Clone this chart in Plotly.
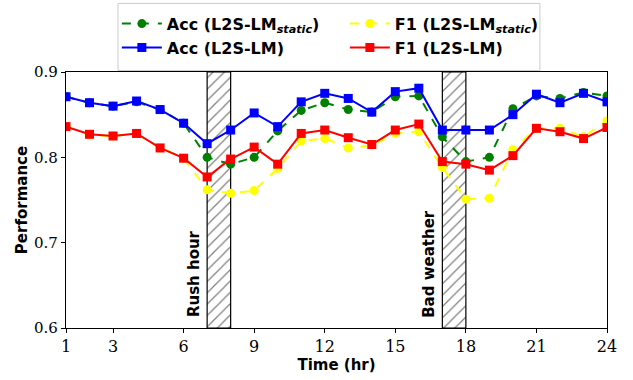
import plotly.graph_objects as go

hours = list(range(1, 25))
acc_static = [0.871, 0.864, 0.860, 0.865, 0.856, 0.840, 0.800, 0.792, 0.800, 0.831, 0.855, 0.864,
              0.856, 0.853, 0.871, 0.872, 0.824, 0.795, 0.800, 0.857, 0.872, 0.869, 0.876, 0.872]
f1_static = [0.836, 0.826, 0.825, 0.828, 0.811, 0.799, 0.762, 0.758, 0.761, 0.787, 0.819, 0.822,
             0.811, 0.814, 0.828, 0.830, 0.788, 0.751, 0.752, 0.809, 0.834, 0.834, 0.824, 0.843]
acc_lm = [0.871, 0.864, 0.860, 0.866, 0.856, 0.840, 0.816, 0.832, 0.852, 0.836, 0.865, 0.875,
          0.869, 0.853, 0.877, 0.881, 0.832, 0.832, 0.832, 0.850, 0.874, 0.864, 0.875, 0.865]
f1_lm = [0.836, 0.827, 0.825, 0.828, 0.811, 0.799, 0.777, 0.798, 0.812, 0.792, 0.828, 0.832,
         0.823, 0.815, 0.832, 0.839, 0.795, 0.792, 0.785, 0.802, 0.834, 0.830, 0.822, 0.835]

event_start = [7, 17]
event_names = ["Rush hour", "Bad weather"]
x_ticks = [1, 3, 6, 9, 12, 15, 18, 21, 24]
y_ticks = [0.6, 0.7, 0.8, 0.9]
y_range = [0.6, 0.9]

fig = go.Figure()

# hatched event regions
fig.add_trace(go.Bar(
    x=[s + 0.5 for s in event_start], y=[y_range[1] - y_range[0]] * len(event_start),
    base=[y_range[0]] * len(event_start), width=[1] * len(event_start),
    marker=dict(color="white", line=dict(color="black", width=1.2),
                pattern=dict(shape="/", fgcolor="black", bgcolor="white", size=8, solidity=0.15)),
    showlegend=False, hoverinfo="skip"))

bold = lambda s: "<b>" + s + "</b>"
series = [
    ("Acc (L2S-LM<sub><i>static</i></sub>)", acc_static, "green", "dash", "circle"),
    ("F1 (L2S-LM<sub><i>static</i></sub>)", f1_static, "#ffff00", "dash", "circle"),
    ("Acc (L2S-LM)", acc_lm, "#0000ff", "solid", "square"),
    ("F1 (L2S-LM)", f1_lm, "#ff0000", "solid", "square"),
]
for name, vals, col, dash, sym in series:
    fig.add_trace(go.Scatter(
        x=hours, y=vals, mode="lines+markers", name=bold(name),
        line=dict(color=col, width=2, dash=dash),
        marker=dict(color=col, symbol=sym, size=9)))

for s, name in zip(event_start, event_names):
    fig.add_annotation(x=s, y=y_range[0] + 0.01, xref="x", yref="y", text=bold(name),
                       textangle=-90, showarrow=False, xanchor="right", yanchor="bottom",
                       xshift=-2, font=dict(family="DejaVu Sans", size=15, color="black"))

# legend frame
fig.add_shape(type="rect", xref="paper", yref="paper", x0=0.0961, x1=0.876, y0=1.006, y1=1.268,
              line=dict(color="#cccccc", width=1), fillcolor="rgba(0,0,0,0)", layer="below")

fig.update_layout(
    width=633, height=380,
    margin=dict(l=66, r=26, t=72, b=52, autoexpand=False),
    plot_bgcolor="white", paper_bgcolor="white",
    barmode="overlay",
    legend=dict(orientation="h", x=0.094, y=1.255, xanchor="left", yanchor="top",
                entrywidth=173, entrywidthmode="pixels",
                borderwidth=0, bgcolor="rgba(0,0,0,0)",
                font=dict(family="DejaVu Sans", size=16, color="black"),
                tracegroupgap=0, itemwidth=40),
    xaxis=dict(range=[1, 24], tickvals=x_ticks, showline=True, linecolor="black", linewidth=1.2,
               mirror=True, ticks="outside", ticklen=4, tickcolor="black", showgrid=False,
               zeroline=False, automargin=False,
               tickfont=dict(family="DejaVu Serif", size=16, color="black"),
               title=dict(text="<b>Time (hr)</b>", standoff=4,
                          font=dict(family="DejaVu Sans", size=15, color="black"))),
    yaxis=dict(range=y_range, tickvals=y_ticks, tickformat=".1f", showline=True, linecolor="black",
               linewidth=1.2, mirror=True, ticks="outside", ticklen=4, tickcolor="black",
               showgrid=False, zeroline=False, automargin=False,
               tickfont=dict(family="DejaVu Serif", size=15, color="black"),
               title=dict(text="<b>Performance</b>", standoff=2,
                          font=dict(family="DejaVu Sans", size=15, color="black"))),
)

fig.write_html("out.html", config={"displayModeBar": False},
               post_script="document.body.style.margin='0';")
